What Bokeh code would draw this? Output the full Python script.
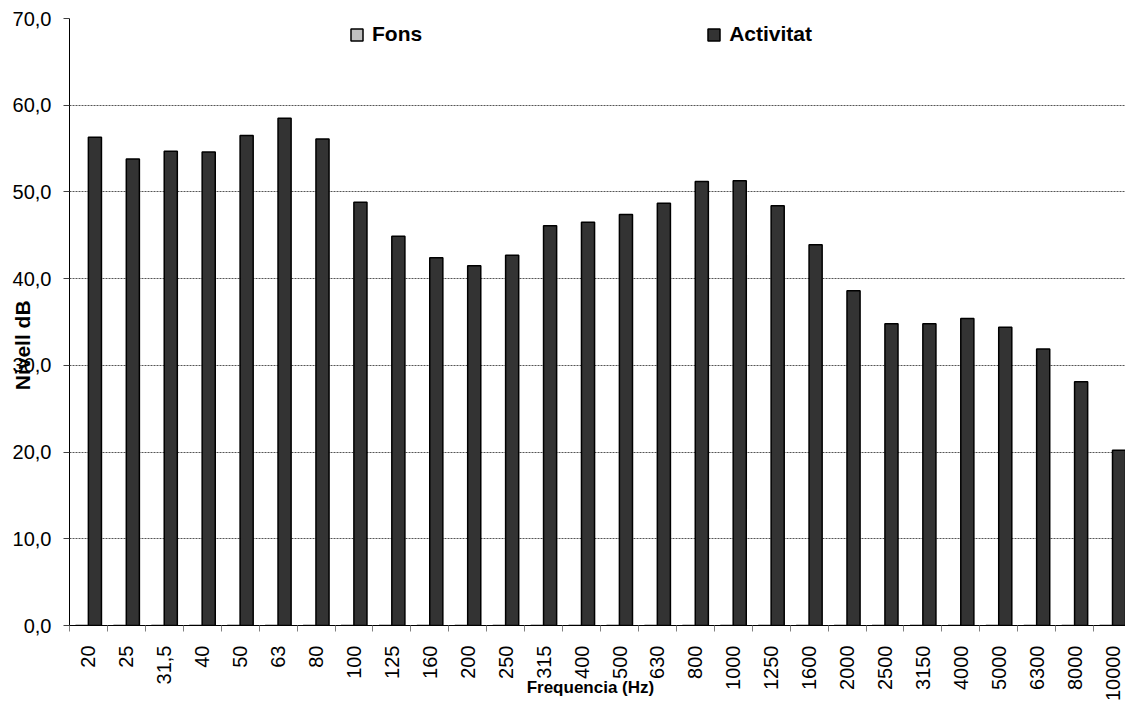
import math
from bokeh.plotting import figure
from bokeh.models import Range1d, FixedTicker, Legend, LegendItem
from bokeh.embed import file_html
from bokeh.resources import INLINE

# ---- data ----
frequencies = ["20", "25", "31,5", "40", "50", "63", "80", "100", "125", "160",
               "200", "250", "315", "400", "500", "630", "800", "1000", "1250",
               "1600", "2000", "2500", "3150", "4000", "5000", "6300", "8000",
               "10000"]
activitat = [56.3, 53.8, 54.7, 54.6, 56.5, 58.5, 56.1, 48.8, 44.9, 42.4,
             41.5, 42.7, 46.1, 46.5, 47.4, 48.7, 51.2, 51.3, 48.4,
             43.9, 38.6, 34.8, 34.8, 35.4, 34.4, 31.9, 28.1,
             20.2]
fons = [None] * len(frequencies)   # background series: no visible values
y_ticks = [0, 10, 20, 30, 40, 50, 60, 70]
y_tick_labels = ["0,0", "10,0", "20,0", "30,0", "40,0", "50,0", "60,0", "70,0"]
series_names = ["Fons", "Activitat"]
x_title = "Frequencia (Hz)"
y_title = "Nivell dB"

FONT = "Liberation Sans"
NBSP = "\u00a0"
W, H = 1125, 704

n = len(frequencies)
centers = [i + 0.5 for i in range(n)]
bounds = list(range(n + 1))
act_x = [c + 0.17 for c in centers]
fons_x = [c - 0.17 for c in centers]

p = figure(width=W, height=H,
           x_range=Range1d(0, 27.84), y_range=Range1d(0, 70),
           output_backend="svg", toolbar_location=None,
           min_border_left=69, min_border_right=0,
           min_border_top=18, min_border_bottom=79)
p.outline_line_color = None
p.background_fill_color = "white"

r_fons = p.vbar(x=fons_x, top=fons, width=0.345, bottom=0,
                fill_color="#c0c0c0", line_color="black", line_width=1.5)
r_act = p.vbar(x=act_x, top=activitat, width=0.345, bottom=0,
               fill_color="#333333", line_color="black", line_width=1.5)

# x axis: labels at category centres, ticks at category boundaries
xax = p.xaxis[0]
xax.ticker = FixedTicker(ticks=centers, minor_ticks=bounds)
xax.major_label_overrides = {c: lab for c, lab in zip(centers, frequencies)}
xax.major_tick_out = 0
xax.major_tick_in = 0
xax.minor_tick_out = 6
xax.minor_tick_in = 0
xax.minor_tick_line_color = "#808080"
xax.major_label_orientation = math.pi / 2
xax.major_label_standoff = 14
xax.major_label_text_font = FONT
xax.major_label_text_font_size = "20px"
xax.major_label_text_color = "black"
xax.axis_line_color = "black"
xax.axis_line_width = 1
xax.axis_label = x_title + NBSP * 3
xax.axis_label_standoff = -26
xax.axis_label_text_font = FONT
xax.axis_label_text_font_size = "17px"
xax.axis_label_text_font_style = "bold"
xax.axis_label_text_color = "black"

yax = p.yaxis[0]
yax.ticker = FixedTicker(ticks=y_ticks, minor_ticks=[])
yax.major_label_overrides = {t: lab for t, lab in zip(y_ticks, y_tick_labels)}
yax.major_tick_out = 6
yax.major_tick_in = 0
yax.major_tick_line_color = "#404040"
yax.major_label_standoff = 12
yax.major_label_text_font = FONT
yax.major_label_text_font_size = "20px"
yax.major_label_text_color = "black"
yax.axis_line_color = "black"
yax.axis_line_width = 1
yax.axis_label = y_title + NBSP * 8
yax.axis_label_standoff = -24
yax.axis_label_text_font = FONT
yax.axis_label_text_font_size = "21px"
yax.axis_label_text_font_style = "bold"
yax.axis_label_text_color = "black"

p.xgrid.grid_line_color = None
p.ygrid.grid_line_color = "#555555"
p.ygrid.grid_line_dash = "2 1"
p.ygrid.grid_line_width = 1

legend = Legend(items=[LegendItem(label=series_names[0], renderers=[r_fons], index=0),
                       LegendItem(label=series_names[1], renderers=[r_act], index=0)],
                orientation="horizontal", location=(280, 579),
                padding=0, margin=0, spacing=284,
                glyph_width=15, glyph_height=15, label_standoff=8,
                label_height=24,
                label_text_font=FONT, label_text_font_size="21px",
                label_text_font_style="bold", label_text_color="black",
                border_line_alpha=0, background_fill_alpha=0)
p.add_layout(legend)

open("out.html", "w").write(file_html(p, INLINE))
